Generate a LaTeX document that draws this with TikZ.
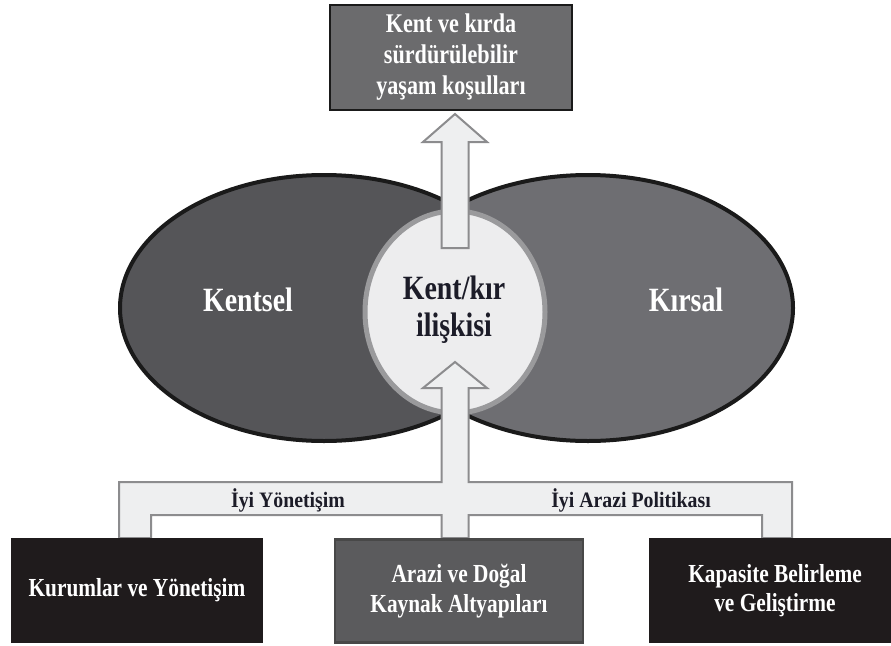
\documentclass[tikz,border=0pt]{standalone}
\usepackage{fontspec}
\setmainfont{Liberation Serif}
\newfontfamily\condf[FakeStretch=0.82]{Liberation Serif}
\newfontfamily\semif[FakeStretch=0.9]{Liberation Serif}
\definecolor{lellfill}{HTML}{555558}
\definecolor{rellfill}{HTML}{6E6E72}
\definecolor{ellborder}{HTML}{1A1A1A}
\definecolor{midfill}{HTML}{EDEDEE}
\definecolor{midborder}{HTML}{9A9A9C}
\definecolor{arrfill}{HTML}{EEEFF0}
\definecolor{arrborder}{HTML}{8C8C8E}
\definecolor{topfill}{HTML}{6B6B6D}
\definecolor{darkfill}{HTML}{1F1B1C}
\definecolor{grayboxfill}{HTML}{5B5B5D}
\definecolor{inktext}{HTML}{1C1C28}
\begin{document}
\begin{tikzpicture}[x=1pt,y=-1pt,
  bigell/.style={ellipse, draw=ellborder, line width=4pt},
  boxnode/.style={draw=#1, line width=2.5pt, inner sep=0pt, align=center, text=white},
  bigtxt/.style={font=\condf\bfseries\fontsize{34}{37}\selectfont},
  boxtxt/.style={font=\condf\bfseries\fontsize{26}{29.5}\selectfont},
  toptxt/.style={font=\condf\bfseries\fontsize{27}{31}\selectfont},
  lbltxt/.style={font=\semif\bfseries\fontsize{22}{24}\selectfont, text=inktext},
  fatarrow/.style={fill=arrfill, draw=arrborder, line width=2pt, line join=miter}
]
\useasboundingbox (0,0) rectangle (891,645);
\fill[white] (0,0) rectangle (891,645);

% the two big ellipses
\draw[fill=lellfill, draw=ellborder, line width=4pt] (324,308) ellipse [x radius=204, y radius=133];
\draw[fill=rellfill, draw=ellborder, line width=4pt] (588,308) ellipse [x radius=205, y radius=133];
\node[bigtxt, text=white] (kentsel) at (248,300) {Kentsel};
\node[bigtxt, text=white] (kirsal) at (686,300) {Kırsal};

% centre ellipse
\draw[fill=midfill, draw=midborder, line width=5pt] (455,312) ellipse [x radius=90, y radius=101];
\node[bigtxt, text=inktext, align=center] (iliski) at (454,310) {Kent/kır\\ilişkisi};

% top box
\node[boxnode=ellborder, fill=topfill, minimum width=242pt, minimum height=105pt, toptxt]
  (top) at (451,57.5) {Kent ve kırda\\sürdürülebilir\\yaşam koşulları};

% upward arrow from centre to top box
\coordinate (ua) at (455,114);
\coordinate (ub) at (455,248);
\draw[fatarrow] (ua) -- ++(32,28) -- ++(-18.5,0) |- (ub) -- ++(-13.5,0) -- ++(0,-106) -- ++(-18.5,0) -- cycle;

% bottom T-shaped arrow structure
\coordinate (ba) at (455,362);
\draw[fatarrow] (ba) -- (487,388) -- (468.5,388) -- (468.5,482) -- (792,482) -- (792,538)
  -- (762,538) -- (762,515) -- (468.5,515) -- (468.5,538) -- (441.5,538) -- (441.5,515)
  -- (151,515) -- (151,538) -- (119,538) -- (119,482) -- (441.5,482) -- (441.5,388)
  -- (423,388) -- cycle;
\node[lbltxt] (yon) at (288,500) {İyi Yönetişim};
\node[lbltxt] (pol) at (631,500) {İyi Arazi Politikası};

% bottom boxes
\node[boxnode=darkfill, fill=darkfill, minimum width=250pt, minimum height=103pt, boxtxt]
  (kurum) at (137,590.5) {Kurumlar ve Yönetişim};
\node[boxnode=ellborder!80, fill=grayboxfill, minimum width=248pt, minimum height=103pt, boxtxt]
  (arazi) at (459,591) {Arazi ve Doğal\\Kaynak Altyapıları};
\node[boxnode=darkfill, fill=darkfill, minimum width=250pt, minimum height=103pt, boxtxt]
  (kapa) at (775,590.5) {Kapasite Belirleme\\ve Geliştirme};
\end{tikzpicture}
\end{document}
